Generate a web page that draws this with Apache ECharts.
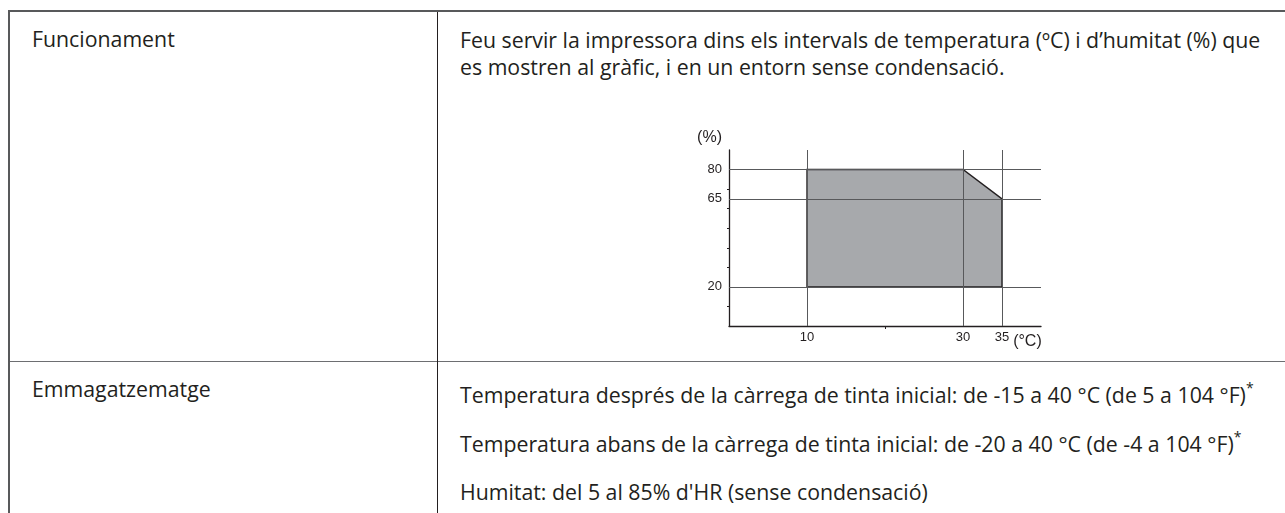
<!DOCTYPE html>
<html>
<head>
<meta charset="utf-8">
<script src="https://cdn.jsdelivr.net/npm/echarts@6/dist/echarts.min.js"></script>
<style>
  html, body { margin: 0; padding: 0; background: #ffffff; }
  body { width: 1285px; height: 513px; position: relative; overflow: hidden; font-family: "Open Sans", Lato, sans-serif; color: #231f20; }
  .hl { position: absolute; left: 8px; right: 0; }
  .vl { position: absolute; bottom: 0; }
  .t { position: absolute; font-size: 21.3px; line-height: 21.3px; white-space: nowrap; }
  .t sup { font-size: 14px; position: relative; top: -2px; line-height: 0; }
  #chart { position: absolute; left: 0; top: 0; width: 1285px; height: 513px; }
</style>
</head>
<body>
<div class="hl" style="top:10px;height:2px;background:#58595b"></div>
<div class="hl" style="top:361px;height:1px;background:#6d6e71"></div>
<div class="vl" style="left:8px;top:10px;width:2px;background:#58595b"></div>
<div class="vl" style="left:437px;top:12px;width:1px;background:#231f20"></div>

<div class="t" style="left:32px;top:28px">Funcionament</div>
<div class="t" style="left:460px;top:29px">Feu servir la impressora dins els intervals de temperatura (ºC) i d’humitat (%) que</div>
<div class="t" style="left:460px;top:56px">es mostren al gràfic, i en un entorn sense condensació.</div>

<div class="t" style="left:32px;top:378px">Emmagatzematge</div>
<div class="t" style="left:460px;top:384px">Temperatura després de la càrrega de tinta inicial: de -15 a 40 °C (de 5 a 104 °F)<sup>*</sup></div>
<div class="t" style="left:460px;top:433px">Temperatura abans de la càrrega de tinta inicial: de -20 a 40 °C (de -4 a 104 °F)<sup>*</sup></div>
<div class="t" style="left:460px;top:481px">Humitat: del 5 al 85% d'HR (sense condensació)</div>

<div id="chart"></div>
<script>
// Operating range polygon (temperature °C, humidity %)
const rangeTemps = [10, 10, 30, 35, 35];
const rangeHums  = [20, 80, 80, 65, 20];
// Reference lines
const gridTemps = [10, 30, 35];
const gridHums  = [20, 65, 80];
// Tick labels and ticks
const xLabelValues = [10, 30, 35];
const yLabelValues = [20, 65, 80];
const xTickValues = [20];
const yTickValues = [10, 30, 40, 50, 60, 70];
const xMin = 0, xMax = 40, yMin = 0, yMax = 90;

const chart = echarts.init(document.getElementById('chart'), null, { renderer: 'canvas' });
const dark = '#231f20';
const labelFont = '"Liberation Sans", Arial, sans-serif';

chart.setOption({
  backgroundColor: 'transparent',
  animation: false,
  grid: { left: 729, top: 150, width: 312, height: 176, containLabel: false },
  xAxis: {
    type: 'value', min: xMin, max: xMax, interval: 5,
    name: '(°C)', nameLocation: 'end', nameGap: 0,
    nameTextStyle: { align: 'right', verticalAlign: 'top', padding: [8, 0, 0, 0], fontSize: 16, color: dark, fontFamily: labelFont },
    axisLine: { show: true, lineStyle: { color: dark, width: 1.3 } },
    axisTick: { show: true, inside: false, length: 3, customValues: xTickValues, lineStyle: { color: dark } },
    axisLabel: { show: true, customValues: xLabelValues, margin: 5, fontSize: 13, color: dark, fontFamily: labelFont },
    splitLine: { show: false }
  },
  yAxis: {
    type: 'value', min: yMin, max: yMax, interval: 10,
    name: '(%)', nameLocation: 'end', nameGap: 4,
    nameTextStyle: { align: 'right', verticalAlign: 'bottom', padding: [0, 7, 0, 0], fontSize: 16, color: dark, fontFamily: labelFont },
    axisLine: { show: true, lineStyle: { color: dark, width: 1.3 } },
    axisTick: { show: true, inside: false, length: 2, customValues: yTickValues, lineStyle: { color: dark } },
    axisLabel: { show: true, customValues: yLabelValues, margin: 7, fontSize: 13, color: dark, fontFamily: labelFont },
    splitLine: { show: false }
  },
  series: [
    {
      type: 'custom',
      z: 2,
      silent: true,
      data: rangeTemps.map((t, i) => [t, rangeHums[i]]),
      renderItem: function (params, api) {
        if (params.dataIndex !== 0) return null;
        const pts = rangeTemps.map((t, i) => api.coord([t, rangeHums[i]]));
        return {
          type: 'polygon',
          shape: { points: pts },
          style: { fill: '#a7a9ac', stroke: dark, lineWidth: 1.4 }
        };
      }
    },
    {
      type: 'line',
      z: 5,
      silent: true,
      data: [],
      markLine: {
        silent: true,
        symbol: ['none', 'none'],
        label: { show: false },
        lineStyle: { color: '#58595b', width: 1, type: 'solid' },
        emphasis: { disabled: true },
        data: gridTemps.map(v => ({ xAxis: v })).concat(gridHums.map(v => ({ yAxis: v })))
      }
    }
  ]
});
</script>
</body>
</html>
